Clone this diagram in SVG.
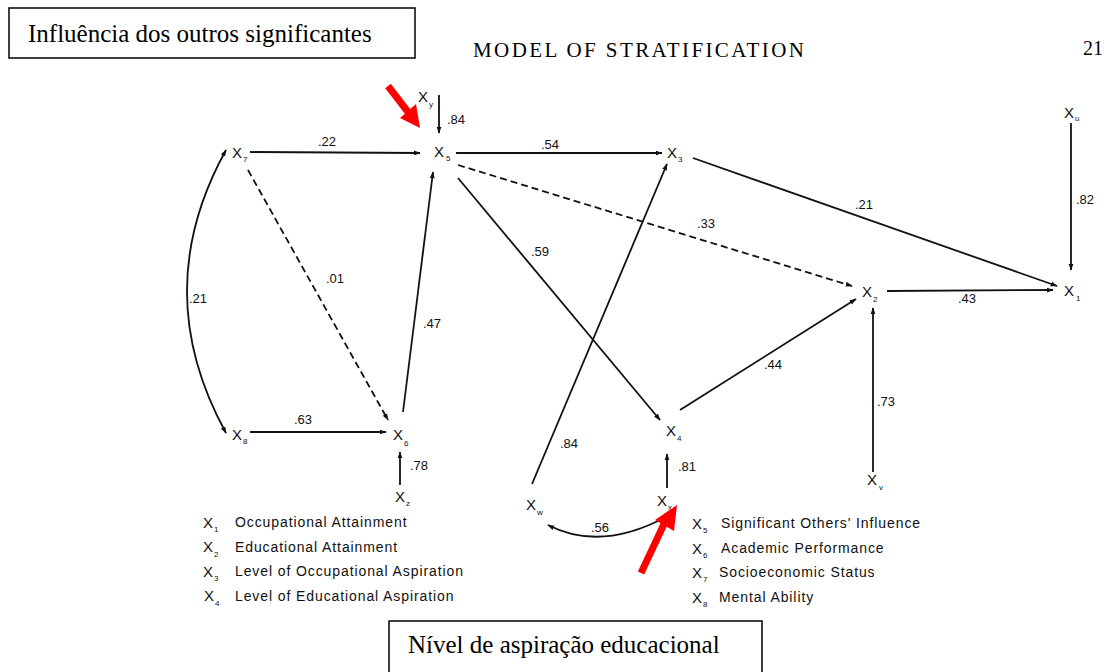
<svg xmlns="http://www.w3.org/2000/svg" width="1109" height="672" viewBox="0 0 1109 672">
<style>
.n{font-family:"Liberation Sans",Arial,sans-serif;font-size:15px;fill:#111}
.s{font-family:"Liberation Sans",Arial,sans-serif;font-size:8px;fill:#111}
.l{font-family:"Liberation Sans",Arial,sans-serif;font-size:13px;fill:#111}
.g{font-family:"Liberation Sans",Arial,sans-serif;font-size:14px;fill:#111;letter-spacing:0.9px}
.e{fill:none;stroke:#111;stroke-width:1.8}
.d{stroke-dasharray:7,4}
.t{font-family:"Liberation Serif","Times New Roman",serif;fill:#000}
</style>
<defs>
<marker id="a" viewBox="0 0 10 10" refX="9" refY="5" markerWidth="7" markerHeight="7" orient="auto-start-reverse" markerUnits="userSpaceOnUse">
<path d="M0,1.5 L10,5 L0,8.5 Z" fill="#111"/>
</marker>
</defs>
<rect width="1109" height="672" fill="#fff"/>
<g id="box-top">
<rect x="9" y="8" width="406" height="50" fill="#fff" stroke="#000" stroke-width="1.5"/>
<text class="t" x="28" y="42" font-size="25">Influência dos outros significantes</text>
</g>
<text class="t" x="473" y="57" font-size="21" letter-spacing="2.4">MODEL OF STRATIFICATION</text>
<text class="t" x="1083" y="55" font-size="20">21</text>
<g id="box-bottom">
<rect x="389" y="621" width="373" height="60" fill="#fff" stroke="#000" stroke-width="1.5"/>
<text class="t" x="408" y="653" font-size="25">Nível de aspiração educacional</text>
</g>
<g id="connectors">
<line class="e" x1="439" y1="95" x2="439" y2="133" marker-end="url(#a)"/>
<line class="e" x1="250" y1="152" x2="420" y2="153" marker-end="url(#a)"/>
<line class="e" x1="456" y1="153" x2="662" y2="153" marker-end="url(#a)"/>
<line class="e" x1="693" y1="158" x2="1057" y2="286" marker-end="url(#a)"/>
<line class="e d" x1="458" y1="165" x2="852" y2="286" marker-end="url(#a)"/>
<line class="e" x1="458" y1="178" x2="660" y2="420" marker-end="url(#a)"/>
<line class="e d" x1="248" y1="170" x2="388" y2="420" marker-end="url(#a)"/>
<line class="e" x1="403" y1="412" x2="433" y2="172" marker-end="url(#a)"/>
<line class="e" x1="250" y1="432" x2="386" y2="432" marker-end="url(#a)"/>
<line class="e" x1="400" y1="485" x2="400" y2="452" marker-end="url(#a)"/>
<line class="e" x1="887" y1="291" x2="1053" y2="290" marker-end="url(#a)"/>
<line class="e" x1="1071" y1="123" x2="1071" y2="270" marker-end="url(#a)"/>
<line class="e" x1="873" y1="472" x2="873" y2="308" marker-end="url(#a)"/>
<line class="e" x1="680" y1="410" x2="856" y2="299" marker-end="url(#a)"/>
<line class="e" x1="532" y1="484" x2="667" y2="164" marker-end="url(#a)"/>
<line class="e" x1="667" y1="488" x2="667" y2="454" marker-end="url(#a)"/>
<path class="e" d="M548,525 Q600,552 666,517" marker-start="url(#a)" marker-end="url(#a)"/>
<path class="e" d="M226,150 Q148,291 226,433" marker-start="url(#a)" marker-end="url(#a)"/>
<text class="l" x="447" y="124">.84</text>
<text class="l" x="318" y="146">.22</text>
<text class="l" x="541" y="149">.54</text>
<text class="l" x="855" y="209">.21</text>
<text class="l" x="697" y="228">.33</text>
<text class="l" x="531" y="256">.59</text>
<text class="l" x="326" y="283">.01</text>
<text class="l" x="423" y="328">.47</text>
<text class="l" x="294" y="424">.63</text>
<text class="l" x="410" y="470">.78</text>
<text class="l" x="958" y="303">.43</text>
<text class="l" x="1076" y="204">.82</text>
<text class="l" x="877" y="406">.73</text>
<text class="l" x="764" y="369">.44</text>
<text class="l" x="560" y="448">.84</text>
<text class="l" x="678" y="471">.81</text>
<text class="l" x="591" y="532">.56</text>
<text class="l" x="189" y="303">.21</text>
</g>
<g id="node-y"><text class="n" x="418" y="102">X</text><text class="s" x="429" y="107">y</text></g>
<g id="node-5"><text class="n" x="434" y="157">X</text><text class="s" x="446" y="161">5</text></g>
<g id="node-7"><text class="n" x="232" y="158">X</text><text class="s" x="243" y="162">7</text></g>
<g id="node-3"><text class="n" x="667" y="158">X</text><text class="s" x="678" y="162">3</text></g>
<g id="node-u"><text class="n" x="1064" y="118">X</text><text class="s" x="1075" y="121">u</text></g>
<g id="node-1"><text class="n" x="1064" y="296">X</text><text class="s" x="1076" y="301">1</text></g>
<g id="node-2"><text class="n" x="862" y="297">X</text><text class="s" x="873" y="302">2</text></g>
<g id="node-8"><text class="n" x="232" y="440">X</text><text class="s" x="243" y="444">8</text></g>
<g id="node-6"><text class="n" x="393" y="440">X</text><text class="s" x="404" y="446">6</text></g>
<g id="node-z"><text class="n" x="395" y="502">X</text><text class="s" x="406" y="506">z</text></g>
<g id="node-4"><text class="n" x="666" y="436">X</text><text class="s" x="677" y="441">4</text></g>
<g id="node-w"><text class="n" x="526" y="510">X</text><text class="s" x="537" y="515">w</text></g>
<g id="node-x"><text class="n" x="657" y="506">X</text><text class="s" x="668" y="510">x</text></g>
<g id="node-v"><text class="n" x="867" y="485">X</text><text class="s" x="879" y="490">v</text></g>
<g id="legend">
<text class="n" x="203" y="528">X</text><text class="s" x="214" y="532">1</text><text class="g" x="235" y="527">Occupational Attainment</text>
<text class="n" x="203" y="552">X</text><text class="s" x="214" y="557">2</text><text class="g" x="235" y="552">Educational Attainment</text>
<text class="n" x="203" y="577">X</text><text class="s" x="214" y="581">3</text><text class="g" x="235" y="576">Level of Occupational Aspiration</text>
<text class="n" x="204" y="601">X</text><text class="s" x="215" y="606">4</text><text class="g" x="235" y="601">Level of Educational Aspiration</text>
<text class="n" x="692" y="529">X</text><text class="s" x="703" y="533">5</text><text class="g" x="721" y="528">Significant Others' Influence</text>
<text class="n" x="692" y="554">X</text><text class="s" x="703" y="558">6</text><text class="g" x="721" y="553">Academic Performance</text>
<text class="n" x="692" y="578">X</text><text class="s" x="703" y="582">7</text><text class="g" x="719" y="577">Socioeconomic Status</text>
<text class="n" x="692" y="603">X</text><text class="s" x="703" y="607">8</text><text class="g" x="719" y="602">Mental Ability</text>
</g>
<g id="red-arrows">
<line x1="388" y1="86" x2="408" y2="112" stroke="#f00" stroke-width="7"/>
<path d="M400,118 L420,128 L416,104 Z" fill="#f00"/>
<line x1="641" y1="573" x2="665" y2="522" stroke="#f00" stroke-width="7"/>
<path d="M655,520 L677,505 L674,531 Z" fill="#f00"/>
</g>
</svg>
